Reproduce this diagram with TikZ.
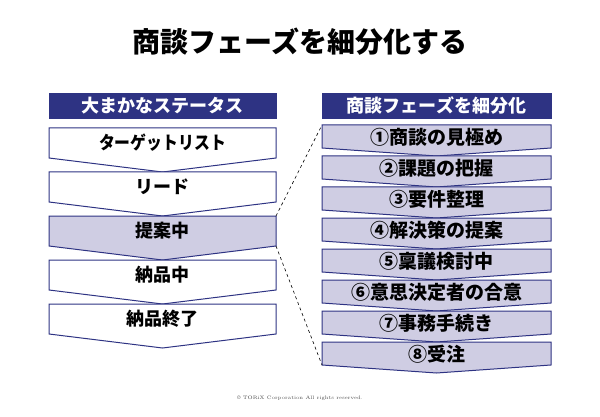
\documentclass[tikz,border=0pt]{standalone}
\usepackage{fontspec}
\newfontfamily\jp{Noto Sans CJK JP Black}
\definecolor{navy}{HTML}{2E3383}
\definecolor{lav}{HTML}{CFCDE3}
% chevron box: #1 name, #2 left x, #3 top y, #4 width, #5 side height, #6 tip depth, #7 fill
\newcommand{\chevbox}[7]{%
  \draw[navy, line width=1pt, fill=#7] (#2,#3) -- ++(#4,0) -- ++(0,#5)
    -- ++(-#4/2,#6) -- ++(-#4/2,-#6) -- cycle;
  \coordinate (#1-nw) at (#2,#3);
  \coordinate (#1-ne) at ({#2+#4},#3);
  \coordinate (#1-sw) at (#2,{#3+#5});
  \coordinate (#1-se) at ({#2+#4},{#3+#5});
}
\begin{document}
\begin{tikzpicture}[x=1pt, y=-1pt, line join=miter]
  \tikzset{
    label/.style={font=\jp\fontsize{18}{18}\selectfont, text=black},
    plabel/.style={font=\jp\fontsize{19}{19}\selectfont, text=black},
    head/.style={fill=navy, draw=navy, text=white, font=\jp\fontsize{18}{18}\selectfont,
      minimum height=25pt, inner sep=0pt},
    link/.style={dashed, line width=0.6pt, black}
  }
  \useasboundingbox (0,0) rectangle (600,417);

  \node[font=\jp\fontsize{28}{28}\selectfont] (title) at (300,42) {商談フェーズを細分化する};

  % left column
  \node[head, minimum width=227pt] (lhead) at (162.5,105.5) {大まかなステータス};
  \chevbox{s1}{49}{128}{227}{30}{14}{white}
  \chevbox{s2}{49}{172}{227}{30}{14}{white}
  \chevbox{s3}{49}{216}{227}{30}{14}{lav}
  \chevbox{s4}{49}{260}{227}{30}{14}{white}
  \chevbox{s5}{49}{304}{227}{30}{14}{white}
  \node[label, xscale=0.88] (t1) at (162.5,143) {ターゲットリスト};
  \node[label] (t2) at (162.5,187) {リード};
  \node[label] (t3) at (162.5,231) {提案中};
  \node[label] (t4) at (162.5,275) {納品中};
  \node[label] (t5) at (162.5,319) {納品終了};

  % right column
  \node[head, minimum width=229pt] (rhead) at (436.5,105.5) {商談フェーズを細分化};
  \foreach \i/\txt in {1/①商談の見極め, 2/②課題の把握, 3/③要件整理, 4/④解決策の提案,
                       5/⑤稟議検討中, 6/⑥意思決定者の合意, 7/⑦事務手続き, 8/⑧受注} {
    \pgfmathsetmacro{\ytop}{125+31*(\i-1)}
    \chevbox{p\i}{322}{\ytop}{229}{23}{8}{lav}
    \node[plabel] (q\i) at (436.5,\ytop+12.5) {\txt};
  }

  \draw[link] (s3-ne) -- (p1-nw);
  \draw[link] (s3-se) -- (p8-sw);

  \node[font=\fontsize{5}{5}\selectfont, text=black!70] (copy) at (300,398)
    {\textcopyright{} TORiX Corporation All rights reserved.};
\end{tikzpicture}
\end{document}
